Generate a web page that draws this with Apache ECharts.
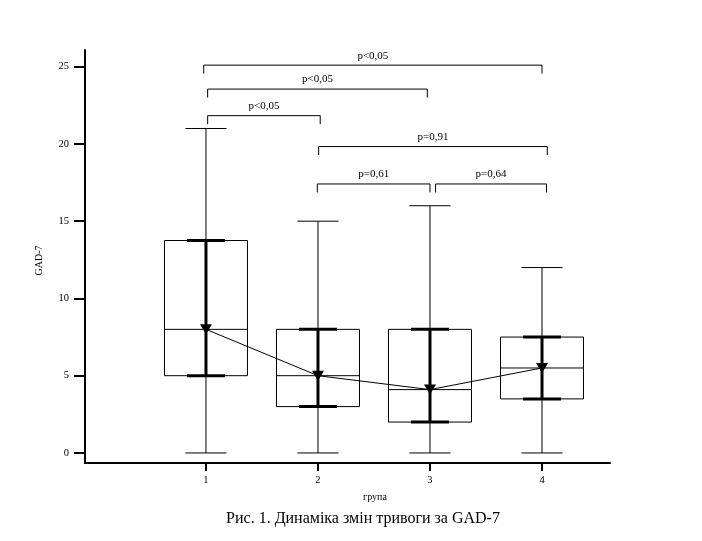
<!DOCTYPE html>
<html>
<head>
<meta charset="utf-8">
<script src="https://cdn.jsdelivr.net/npm/echarts@6/dist/echarts.min.js"></script>
<style>
html, body { margin: 0; padding: 0; background: #fff; }
#chart { width: 702px; height: 541px; }
</style>
</head>
<body>
<div id="chart"></div>
<script>
// дані по групах
var groups = [1, 2, 3, 4];
var mins = [0, 0, 0, 0];
var q1 = [5, 3, 2, 3.5];
var medians = [8, 5, 4.1, 5.5];
var q3 = [13.75, 8, 8, 7.5];
var maxs = [21, 15, 16, 12];
var means = [8, 5, 4.1, 5.5];
var errLow = [5, 3, 2, 3.5];
var errHigh = [13.75, 8, 8, 7.5];
var yTicks = [0, 5, 10, 15, 20, 25];
// порівняння між групами
var pLabels = ['p<0,05', 'p<0,05', 'p<0,05', 'p=0,91', 'p=0,61', 'p=0,64'];
var pFrom = [0.98, 1.015, 1.015, 2.006, 1.994, 3.05];
var pTo = [4.0, 2.976, 2.02, 4.047, 3.0, 4.04];
var pLevel = [25.1, 23.55, 21.83, 19.83, 17.41, 17.41];

var FONT = 'Liberation Serif';

var boxData = groups.map(function (g, i) {
  return [g, mins[i], q1[i], medians[i], q3[i], maxs[i], errLow[i], errHigh[i]];
});
var meanData = groups.map(function (g, i) { return [g, means[i]]; });
var bracketData = pLabels.map(function (t, i) { return [pFrom[i], pLevel[i], pTo[i]]; });

function line(x1, y1, x2, y2, w) {
  return { type: 'line', shape: { x1: x1, y1: y1, x2: x2, y2: y2 },
    style: { stroke: '#000', lineWidth: w } };
}

function renderBox(params, api) {
  var x = api.value(0);
  var cx = api.coord([x, 0])[0];
  var yMin = api.coord([x, api.value(1)])[1];
  var yQ1 = api.coord([x, api.value(2)])[1];
  var yMed = api.coord([x, api.value(3)])[1];
  var yQ3 = api.coord([x, api.value(4)])[1];
  var yMax = api.coord([x, api.value(5)])[1];
  var yLo = api.coord([x, api.value(6)])[1];
  var yHi = api.coord([x, api.value(7)])[1];
  var hw = 41.5, cw = 20.5, tw = 19;
  return {
    type: 'group',
    children: [
      { type: 'rect', shape: { x: cx - hw, y: yQ3, width: hw * 2, height: yQ1 - yQ3 },
        style: { fill: 'none', stroke: '#000', lineWidth: 1 } },
      line(cx - hw, yMed, cx + hw, yMed, 1),
      line(cx, yMin, cx, yMax, 1),
      line(cx - cw, yMin, cx + cw, yMin, 1),
      line(cx - cw, yMax, cx + cw, yMax, 1),
      line(cx, yLo, cx, yHi, 3),
      line(cx - tw, yLo, cx + tw, yLo, 3),
      line(cx - tw, yHi, cx + tw, yHi, 3)
    ]
  };
}

function renderBracket(params, api) {
  var a = api.coord([api.value(0), api.value(1)]);
  var b = api.coord([api.value(2), api.value(1)]);
  var leg = 8.5;
  return {
    type: 'group',
    children: [
      { type: 'polyline',
        shape: { points: [[a[0], a[1] + leg], [a[0], a[1]], [b[0], b[1]], [b[0], b[1] + leg]] },
        style: { fill: 'none', stroke: '#000', lineWidth: 1 } },
      { type: 'text',
        style: { text: pLabels[params.dataIndex], x: (a[0] + b[0]) / 2, y: a[1] - 4,
          textAlign: 'center', textVerticalAlign: 'bottom',
          font: '11px "' + FONT + '"', fill: '#000' } }
    ]
  };
}

var chart = echarts.init(document.getElementById('chart'));
var option = {
  backgroundColor: '#fff',
  animation: false,
  grid: { left: 85, right: 92, top: 50, bottom: 78 },
  xAxis: {
    type: 'value',
    min: -0.08,
    max: 4.607,
    splitLine: { show: false },
    axisLine: { onZero: false, lineStyle: { color: '#000', width: 2 } },
    axisTick: { customValues: groups, length: 8, lineStyle: { color: '#000', width: 2 } },
    axisLabel: { customValues: groups, margin: 12, color: '#000', fontFamily: FONT, fontSize: 10.5 }
  },
  yAxis: {
    type: 'value',
    min: -0.65,
    max: 26.08,
    name: 'GAD-7',
    nameLocation: 'middle',
    nameGap: 41,
    nameTextStyle: { color: '#000', fontFamily: FONT, fontSize: 10, padding: [0, 8, 0, 0] },
    splitLine: { show: false },
    axisLine: { show: true, onZero: false, lineStyle: { color: '#000', width: 2 } },
    axisTick: { show: true, customValues: yTicks, length: 11, lineStyle: { color: '#000', width: 2 } },
    axisLabel: { customValues: yTicks, margin: 16, color: '#000', fontFamily: FONT, fontSize: 10.5 }
  },
  graphic: [
    { type: 'text', x: 375, y: 497,
      style: { text: 'група', textAlign: 'center', textVerticalAlign: 'middle',
        font: '10px "' + FONT + '"', fill: '#000' } },
    { type: 'text', x: 363, y: 519,
      style: { text: 'Рис. 1. Динаміка змін тривоги за GAD-7', textAlign: 'center',
        textVerticalAlign: 'middle', font: '16px "' + FONT + '"', fill: '#000' } }
  ],
  series: [
    { type: 'custom', renderItem: renderBox, data: boxData, clip: false, z: 2 },
    { type: 'line', data: meanData, symbol: 'triangle', symbolRotate: 180, symbolSize: [12, 10],
      itemStyle: { color: '#000' }, lineStyle: { color: '#000', width: 1 }, z: 3 },
    { type: 'custom', renderItem: renderBracket, data: bracketData, clip: false, z: 4 }
  ]
};
chart.setOption(option);
</script>
</body>
</html>
